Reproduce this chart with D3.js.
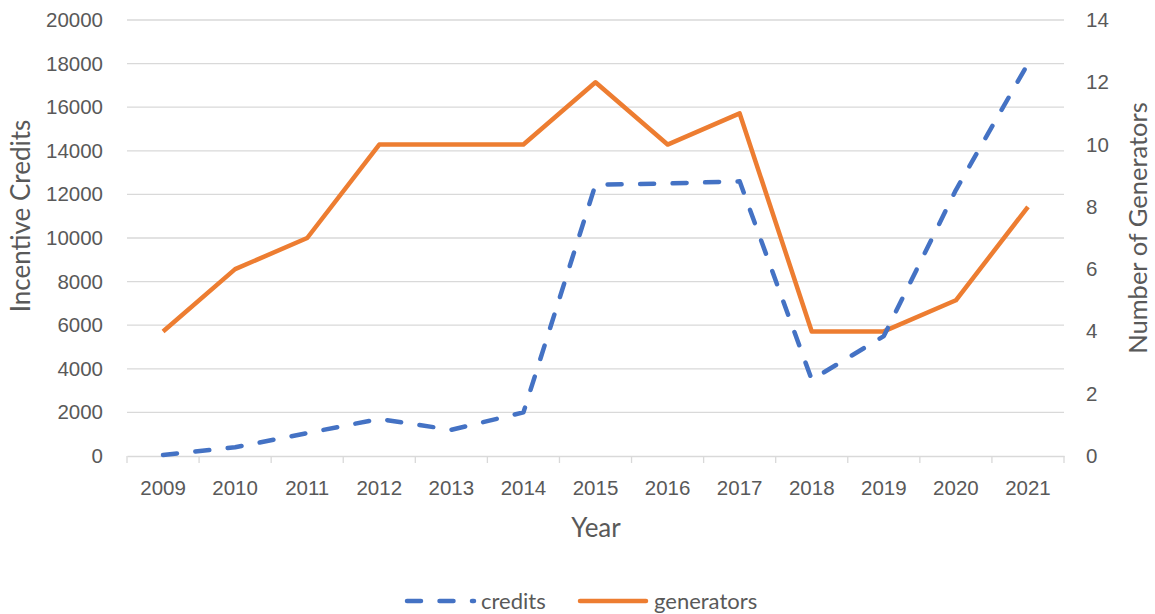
<!DOCTYPE html>
<html>
<head>
<meta charset="utf-8">
<script src="https://cdn.jsdelivr.net/npm/d3@7/dist/d3.min.js"></script>
<style>
  html, body { margin: 0; padding: 0; background: #fff; }
  svg { display: block; font-family: Lato, "Open Sans", sans-serif; }
</style>
</head>
<body>
<svg id="chart" width="1155" height="614"></svg>
<script>
const years = ["2009","2010","2011","2012","2013","2014","2015","2016","2017","2018","2019","2020","2021"];
const credits = [50, 400, 1050, 1700, 1200, 2000, 12450, 12500, 12600, 3500, 5500, 12200, 18000];
const generators = [4, 6, 7, 10, 10, 10, 12, 10, 11, 4, 4, 5, 8];
const leftTicks = [0, 2000, 4000, 6000, 8000, 10000, 12000, 14000, 16000, 18000, 20000];
const rightTicks = [0, 2, 4, 6, 8, 10, 12, 14];

const svg = d3.select("#chart");
const plot = { left: 127, right: 1064, top: 20, bottom: 456 };
const textColor = "#595959";
const gridColor = "#d9d9d9";
const tickFont = 20.5;

const x = d3.scaleBand().domain(years).range([plot.left, plot.right]).padding(0);
const yL = d3.scaleLinear().domain([0, 20000]).range([plot.bottom, plot.top]);
const yR = d3.scaleLinear().domain([0, 14]).range([plot.bottom, plot.top]);

// gridlines
svg.append("g")
  .selectAll("line").data(leftTicks.filter(d => d > 0)).join("line")
  .attr("x1", plot.left).attr("x2", plot.right)
  .attr("y1", d => yL(d)).attr("y2", d => yL(d))
  .attr("stroke", gridColor).attr("stroke-width", 1.3);

// x axis
const xAxis = svg.append("g")
  .attr("transform", `translate(0,${plot.bottom})`)
  .call(d3.axisBottom(x).tickSize(0).tickPadding(24));
xAxis.select(".domain").attr("stroke", gridColor).attr("stroke-width", 1.3);
xAxis.selectAll("text").attr("fill", textColor).attr("font-size", tickFont);
const bounds = years.map(d => x(d)).concat([x(years[years.length - 1]) + x.bandwidth()]);
xAxis.selectAll("line.bt").data(bounds).join("line").attr("class", "bt")
  .attr("x1", d => d).attr("x2", d => d).attr("y1", 0).attr("y2", 7)
  .attr("stroke", gridColor).attr("stroke-width", 1.3);

// left axis
const lAxis = svg.append("g")
  .attr("transform", `translate(${plot.left},0)`)
  .call(d3.axisLeft(yL).tickValues(leftTicks).tickFormat(d3.format("d")).tickSize(0).tickPadding(24));
lAxis.select(".domain").remove();
lAxis.selectAll("text").attr("fill", textColor).attr("font-size", tickFont);

// right axis
const rAxis = svg.append("g")
  .attr("transform", `translate(${plot.right},0)`)
  .call(d3.axisRight(yR).tickValues(rightTicks).tickFormat(d3.format("d")).tickSize(0).tickPadding(22));
rAxis.select(".domain").remove();
rAxis.selectAll("text").attr("fill", textColor).attr("font-size", tickFont);

// axis titles
svg.append("text")
  .attr("transform", "translate(30,216) rotate(-90)")
  .attr("text-anchor", "middle").attr("fill", textColor).attr("font-size", 26)
  .text("Incentive Credits");
svg.append("text")
  .attr("transform", "translate(1147,228) rotate(-90)")
  .attr("text-anchor", "middle").attr("fill", textColor).attr("font-size", 25.5)
  .text("Number of Generators");
svg.append("text")
  .attr("x", 596).attr("y", 537)
  .attr("text-anchor", "middle").attr("fill", textColor).attr("font-size", 26)
  .text("Year");

const cx = d => x(d) + x.bandwidth() / 2;

// generators line
svg.append("path")
  .datum(generators)
  .attr("fill", "none").attr("stroke", "#ED7D31").attr("stroke-width", 4.5)
  .attr("stroke-linejoin", "round")
  .attr("d", d3.line().x((d, i) => cx(years[i])).y(d => yR(d)));

// credits line
svg.append("path")
  .datum(credits)
  .attr("fill", "none").attr("stroke", "#4472C4").attr("stroke-width", 4.5)
  .attr("stroke-linecap", "round").attr("stroke-linejoin", "round")
  .attr("stroke-dasharray", "14,18.5")
  .attr("d", d3.line().x((d, i) => cx(years[i])).y(d => yL(d)));

// legend
const lg = svg.append("g");
lg.append("line").attr("x1", 407).attr("x2", 474).attr("y1", 601).attr("y2", 601)
  .attr("stroke", "#4472C4").attr("stroke-width", 4.5)
  .attr("stroke-linecap", "round").attr("stroke-dasharray", "14,18.5");
lg.append("text").attr("x", 481).attr("y", 608.5).attr("fill", textColor).attr("font-size", 22).text("credits");
lg.append("line").attr("x1", 580).attr("x2", 646).attr("y1", 601).attr("y2", 601)
  .attr("stroke", "#ED7D31").attr("stroke-width", 4.5).attr("stroke-linecap", "round");
lg.append("text").attr("x", 654).attr("y", 608.5).attr("fill", textColor).attr("font-size", 22).text("generators");
</script>
</body>
</html>
